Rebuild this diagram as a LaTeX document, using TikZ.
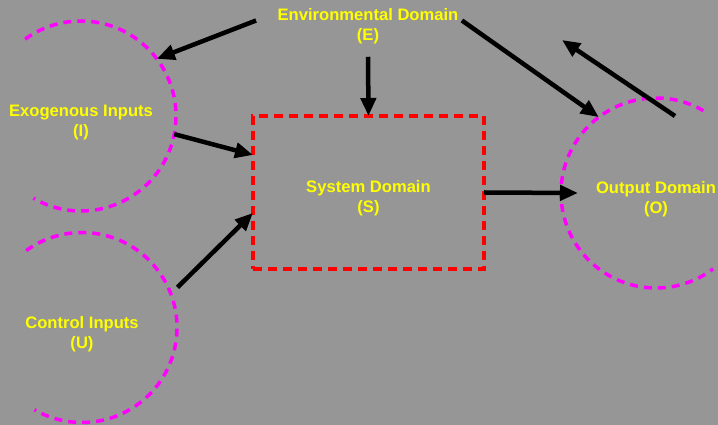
\documentclass[tikz,border=0pt]{standalone}
\usepackage{fontspec}
\setmainfont{Liberation Sans}
\usetikzlibrary{arrows.meta}
\definecolor{bggray}{RGB}{150,150,150}
\definecolor{labelyellow}{RGB}{255,255,0}
\definecolor{arcmagenta}{RGB}{255,0,255}
\definecolor{boxred}{RGB}{255,0,0}
\begin{document}
\begin{tikzpicture}[
x=1pt, y=1pt,
domtext/.style={text=labelyellow, align=center, font=\bfseries\fontsize{16.6}{20}\selectfont},
domnode/.style={circle, minimum size=190pt, inner sep=0pt, outer sep=0pt},
domarc/.style={arcmagenta, line width=3.5pt, dash pattern=on 8pt off 6pt},
sysbox/.style={draw=boxred, line width=3.5pt, dash pattern=on 9pt off 6pt, minimum width=231pt, minimum height=153pt, inner sep=0pt, outer sep=0pt},
arr/.style={black, line width=4.5pt, -{Triangle[length=18pt, width=15pt]}},
]
%Background
\useasboundingbox (0,0) rectangle (718,425);
\fill[bggray] (0,0) rectangle (718,425);

%Domains
\node[sysbox] (sys) at (368.5,232.5) {};
\node[domnode] (exo) at (81,309) {};
\node[domnode] (ctrl) at (82,97.5) {};
\node[domnode] (out) at (656,232) {};

%Labels
\node[domtext] (env) at (368,398.5) {Environmental Domain\\(E)};
\node[domtext] (systext) at ([yshift=-6pt]sys.center) {System Domain\\(S)};
\node[domtext] (exotext) at ([yshift=-7pt]exo.center) {Exogenous Inputs\\(I)};
\node[domtext] (ctrltext) at ([yshift=-7pt]ctrl.center) {Control Inputs\\(U)};
\node[domtext] (outtext) at ([yshift=-6pt]out.center) {Output Domain\\(O)};

%Domain arcs
\draw[domarc] (exo.126) arc[start angle=126, end angle=-120, radius=95pt];
\draw[domarc] (ctrl.126) arc[start angle=126, end angle=-120, radius=95pt];
\draw[domarc] (out.60) arc[start angle=60, end angle=307, radius=95pt];

%Feedback ends
\coordinate (fbstart) at (675,309);
\coordinate (fbend) at (562,385);

%Connections
\draw[arr] ([xshift=-18pt, yshift=6pt]env.west) -- (exo.37.5);
\draw[arr] ([yshift=-9pt]env.south) -- (sys.north);
\draw[arr] ([yshift=6pt]env.east) -- (out.127);
\draw[arr] (exo.-11) -- (sys.162);
\draw[arr] ([shift={(8pt,3pt)}]ctrl.23) -- (sys.190);
\draw[arr] (sys.east) -- ([xshift=17pt]out.west);
\draw[arr] (fbstart) -- (fbend);
\end{tikzpicture}
\end{document}
